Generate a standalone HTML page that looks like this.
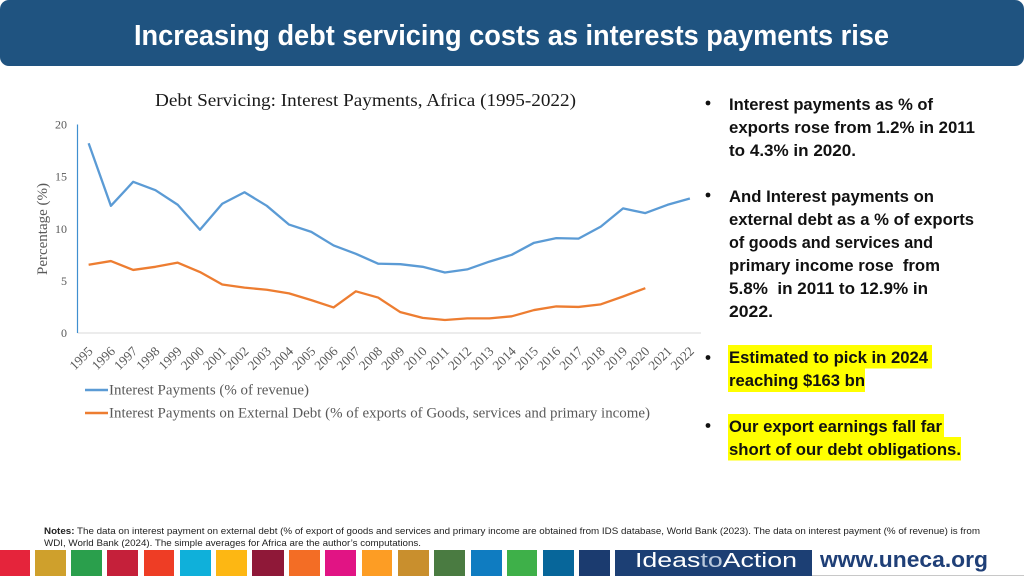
<!DOCTYPE html>
<html lang="en">
<head>
<meta charset="utf-8">
<title>Increasing debt servicing costs</title>
<style>
html,body{margin:0;padding:0;background:#fff;width:1024px;height:576px;overflow:hidden}
svg{display:block}
.s{font-family:"Liberation Sans",sans-serif}
.t{font-family:"Liberation Serif",serif;fill:#595959}
.b{font-family:"Liberation Sans",sans-serif;font-weight:bold;font-size:16.8px;fill:#111}
.n{font-family:"Liberation Sans",sans-serif;font-size:9.5px;fill:#222}
</style>
</head>
<body>
<svg id="slide" width="1024" height="576" viewBox="0 0 1024 576" xmlns="http://www.w3.org/2000/svg">
  <rect x="0" y="0" width="1024" height="66" rx="9" fill="#1f5380"/>
  <text class="s" x="134" y="45" font-size="29" font-weight="bold" fill="#fff" textLength="755" lengthAdjust="spacingAndGlyphs">Increasing debt servicing costs as interests payments rise</text>

  <g id="chart">
    <text x="155" y="106" font-family="Liberation Serif, serif" font-size="18" fill="#1a1a1a" textLength="421" lengthAdjust="spacingAndGlyphs">Debt Servicing: Interest Payments, Africa (1995-2022)</text>
    <text class="t" font-size="14.5" text-anchor="middle" transform="translate(47,229) rotate(-90)" textLength="92" lengthAdjust="spacingAndGlyphs">Percentage (%)</text>
    <line x1="85" y1="390" x2="108" y2="390" stroke="#5b9bd5" stroke-width="2.4"/>
    <text class="t" x="109" y="394.5" font-size="14.5" textLength="200" lengthAdjust="spacingAndGlyphs">Interest Payments (% of revenue)</text>
    <line x1="85" y1="413" x2="108" y2="413" stroke="#ed7d31" stroke-width="2.4"/>
    <text class="t" x="109" y="417.5" font-size="14.5" textLength="541" lengthAdjust="spacingAndGlyphs">Interest Payments on External Debt (% of exports of Goods, services and primary income)</text>
  </g>

  <g>
    <rect x="728" y="345" width="204" height="23.5" fill="#ffff00"/>
    <rect x="728" y="368" width="137" height="24" fill="#ffff00"/>
    <rect x="728" y="414" width="216" height="23.5" fill="#ffff00"/>
    <rect x="728" y="437" width="233" height="23.5" fill="#ffff00"/>
    <g fill="#111">
      <circle cx="708" cy="103" r="2.4"/><circle cx="708" cy="195" r="2.4"/><circle cx="708" cy="357.5" r="2.4"/><circle cx="708" cy="425.5" r="2.4"/>
    </g>
    <text class="b" x="729" y="110" textLength="204" lengthAdjust="spacingAndGlyphs">Interest payments as % of</text>
    <text class="b" x="729" y="133" textLength="246" lengthAdjust="spacingAndGlyphs">exports rose from 1.2% in 2011</text>
    <text class="b" x="729" y="156" textLength="127" lengthAdjust="spacingAndGlyphs">to 4.3% in 2020.</text>
    <text class="b" x="729" y="202" textLength="205" lengthAdjust="spacingAndGlyphs">And Interest payments on</text>
    <text class="b" x="729" y="225" textLength="245" lengthAdjust="spacingAndGlyphs">external debt as a % of exports</text>
    <text class="b" x="729" y="248" textLength="204" lengthAdjust="spacingAndGlyphs">of goods and services and</text>
    <text class="b" x="729" y="271" textLength="211" lengthAdjust="spacingAndGlyphs" xml:space="preserve">primary income rose  from</text>
    <text class="b" x="729" y="294" textLength="199" lengthAdjust="spacingAndGlyphs" xml:space="preserve">5.8%  in 2011 to 12.9% in</text>
    <text class="b" x="729" y="317" textLength="44" lengthAdjust="spacingAndGlyphs">2022.</text>
    <text class="b" x="729" y="363" textLength="199" lengthAdjust="spacingAndGlyphs">Estimated to pick in 2024</text>
    <text class="b" x="729" y="386" textLength="136" lengthAdjust="spacingAndGlyphs">reaching $163 bn</text>
    <text class="b" x="729" y="432" textLength="213" lengthAdjust="spacingAndGlyphs">Our export earnings fall far</text>
    <text class="b" x="729" y="455" textLength="232" lengthAdjust="spacingAndGlyphs">short of our debt obligations.</text>
  </g>

  <g>
    <text class="n" x="44" y="534" textLength="936" lengthAdjust="spacingAndGlyphs"><tspan font-weight="bold">Notes:</tspan> The data on interest payment on external debt (% of export of goods and services and primary income are obtained from IDS database, World Bank (2023). The data on interest payment (% of revenue) is from</text>
    <text class="n" x="44" y="546" textLength="377" lengthAdjust="spacingAndGlyphs">WDI, World Bank (2024). The simple averages for Africa are the author’s computations.</text>
  </g>

  <g>
    <rect x="0" y="550" width="30" height="26" fill="#e5243b"/>
    <rect x="35" y="550" width="31" height="26" fill="#cfa02c"/>
    <rect x="71" y="550" width="31" height="26" fill="#2a9f4c"/>
    <rect x="107" y="550" width="31" height="26" fill="#c5203a"/>
    <rect x="144" y="550" width="30" height="26" fill="#ee3d25"/>
    <rect x="180" y="550" width="31" height="26" fill="#0fb0da"/>
    <rect x="216" y="550" width="31" height="26" fill="#fdb713"/>
    <rect x="252" y="550" width="32" height="26" fill="#8f1838"/>
    <rect x="289" y="550" width="31" height="26" fill="#f36d25"/>
    <rect x="325" y="550" width="31" height="26" fill="#e11484"/>
    <rect x="362" y="550" width="30" height="26" fill="#fd9d24"/>
    <rect x="398" y="550" width="31" height="26" fill="#c98f2d"/>
    <rect x="434" y="550" width="31" height="26" fill="#4a7b41"/>
    <rect x="471" y="550" width="31" height="26" fill="#0f7cc1"/>
    <rect x="507" y="550" width="30" height="26" fill="#3eb049"/>
    <rect x="543" y="550" width="31" height="26" fill="#07669a"/>
    <rect x="579" y="550" width="31" height="26" fill="#1b3b6f"/>
    <rect x="615" y="550" width="197" height="26" fill="#1c3f74"/>
    <text class="s" x="635" y="567" font-size="20" fill="#fff" textLength="162" lengthAdjust="spacingAndGlyphs">Ideas<tspan fill="#b9c8dc">to</tspan>Action</text>
    <text class="s" x="820" y="567" font-size="22" font-weight="bold" fill="#1f3f77" textLength="168" lengthAdjust="spacingAndGlyphs">www.uneca.org</text>
    <rect x="812" y="575" width="212" height="1" fill="#c8c8c8"/>
  </g>
</svg>
<script>
const years = ["1995","1996","1997","1998","1999","2000","2001","2002","2003","2004","2005","2006","2007","2008","2009","2010","2011","2012","2013","2014","2015","2016","2017","2018","2019","2020","2021","2022"];
const revenueSeries = [18.2,12.2,14.5,13.7,12.3,9.9,12.4,13.5,12.2,10.4,9.7,8.4,7.6,6.65,6.6,6.35,5.8,6.1,6.85,7.5,8.65,9.1,9.05,10.2,11.95,11.5,12.3,12.9];
const externalDebtSeries = [6.55,6.9,6.05,6.35,6.75,5.85,4.65,4.35,4.15,3.8,3.15,2.45,4.0,3.4,2.0,1.45,1.25,1.4,1.4,1.6,2.2,2.55,2.5,2.75,3.5,4.3];
const yTicks = [0,5,10,15,20];

const NS = 'http://www.w3.org/2000/svg';
const chart = document.getElementById('chart');
const plotLeft = 77.5, plotRight = 701, plotTop = 124.5, plotBottom = 333, yMax = 20;
function xScale(i){ return plotLeft + (i + 0.5) * (plotRight - plotLeft) / years.length; }
function yScale(v){ return plotBottom - (v / yMax) * (plotBottom - plotTop); }

const xAxis = document.createElementNS(NS, 'line');


xAxis.setAttribute('x1', plotLeft);
xAxis.setAttribute('x2', plotRight);
xAxis.setAttribute('y1', plotBottom);
xAxis.setAttribute('y2', plotBottom);
xAxis.setAttribute('stroke', '#d9d9d9');
xAxis.setAttribute('stroke-width', '1');
chart.appendChild(xAxis);

const yAxis = document.createElementNS(NS, 'line');


yAxis.setAttribute('x1', plotLeft);
yAxis.setAttribute('x2', plotLeft);
yAxis.setAttribute('y1', plotTop);
yAxis.setAttribute('y2', plotBottom);
yAxis.setAttribute('stroke', '#3f8fd0');
yAxis.setAttribute('stroke-width', '1.2');
chart.appendChild(yAxis);

yTicks.forEach(function(t){
  const el = document.createElementNS(NS, 'text');
  
  
  el.setAttribute('class', 't');
  el.setAttribute('x', 67);
  el.setAttribute('y', yScale(t) + 4);
  el.setAttribute('text-anchor', 'end');
  el.setAttribute('font-size', '12');
  el.textContent = t;
  chart.appendChild(el);
});

years.forEach(function(y, i){
  const el = document.createElementNS(NS, 'text');
  
  
  el.setAttribute('class', 't');
  el.setAttribute('text-anchor', 'end');
  el.setAttribute('font-size', '13.3');
  el.setAttribute('transform', 'translate(' + (xScale(i) + 5) + ',352) rotate(-45)');
  el.textContent = y;
  chart.appendChild(el);
});

function pathFor(values){
  return values.map(function(v, i){ return (i ? 'L' : 'M') + xScale(i).toFixed(2) + ' ' + yScale(v).toFixed(2); }).join(' ');
}

const revenueLine = document.createElementNS(NS, 'path');


revenueLine.setAttribute('d', pathFor(revenueSeries));
revenueLine.setAttribute('fill', 'none');
revenueLine.setAttribute('stroke', '#5b9bd5');
revenueLine.setAttribute('stroke-width', '2.3');
revenueLine.setAttribute('stroke-linejoin', 'round');
chart.appendChild(revenueLine);

const debtLine = document.createElementNS(NS, 'path');


debtLine.setAttribute('d', pathFor(externalDebtSeries));
debtLine.setAttribute('fill', 'none');
debtLine.setAttribute('stroke', '#ed7d31');
debtLine.setAttribute('stroke-width', '2.3');
debtLine.setAttribute('stroke-linejoin', 'round');
chart.appendChild(debtLine);
</script>
</body>
</html>
